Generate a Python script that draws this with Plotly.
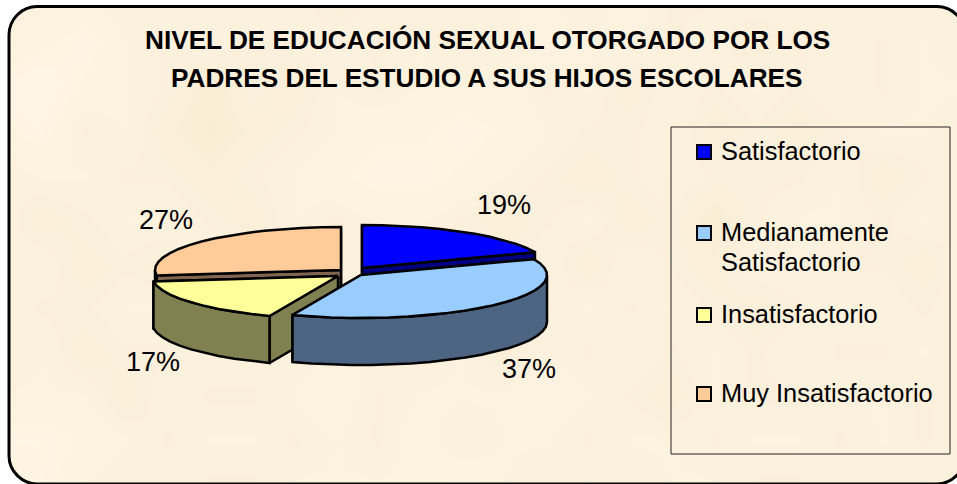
import numpy as np
import plotly.graph_objects as go

title_lines = [
    "NIVEL DE EDUCACIÓN SEXUAL OTORGADO POR LOS",
    "PADRES DEL ESTUDIO A SUS HIJOS ESCOLARES",
]
categories = ["Satisfactorio", "Medianamente", "Insatisfactorio", "Muy Insatisfactorio"]
values = [19, 37, 17, 27]

top_colors = ["#0000FF", "#99CCFF", "#FFFF99", "#FFCC99"]
side_colors = ["#000080", "#4D6582", "#808050", "#806650"]

# where each exploded slice has its apex, on the 957x484 pixel axes
apex = {0: (362, 268), 1: (361, 275), 2: (338, 276), 3: (341, 270)}
label_pos = {0: (504, 207), 1: (529, 371), 2: (153, 364), 3: (166, 222)}
legend_y = {0: 152, 1: 233, 2: 315, 3: 394}
draw_order = [3, 0, 2, 1]

# parchment mottling, one digit per 40px cell, 0 darkest 9 lightest
paper_rows = [
    "566565664656665755665656",
    "678656556565576656456565",
    "897653546566756465656566",
    "785643456778765564545665",
    "566554567887654565556456",
    "645665465665456453566565",
    "564546656556564654665546",
    "655665546465656565456656",
    "564556656656465656565565",
    "666465567566676546556656",
    "887656656575665665665656",
    "786565566667656566556565",
]

RX, RY, DEPTH = 186, 43, 47
FONT = "Liberation Sans, Arial, sans-serif"


def rim(cx, cy, a0, a1):
    # clockwise from 12 o'clock, squashed to an ellipse
    n = max(2, int((a1 - a0) / 6) + 1)
    t = np.radians(np.linspace(a0, a1, n))
    return cx + RX * np.sin(t), cy - RY * np.cos(t)


def add_poly(fig, xs, ys, color):
    fig.add_trace(
        go.Scatter(
            x=list(xs) + [xs[0]],
            y=list(ys) + [ys[0]],
            mode="lines",
            fill="toself",
            fillcolor=color,
            line=dict(color="black", width=2.5),
            hoverinfo="skip",
            showlegend=False,
        )
    )


fig = go.Figure()

fig.add_trace(
    go.Heatmap(
        z=[[int(c) for c in row] for row in paper_rows],
        x0=0,
        dx=42,
        y0=0,
        dy=44,
        zmin=0,
        zmax=9,
        zsmooth="best",
        colorscale=[[0, "#F7E9CE"], [1, "#FFF6E6"]],
        showscale=False,
        hoverinfo="skip",
    )
)

stops = np.cumsum([0] + values) / sum(values) * 360

for i in draw_order:
    a0, a1 = stops[i], stops[i + 1]
    cx, cy = apex[i]
    # radial walls, the ones facing away first
    walls = [(a0, np.cos(np.radians(a0 - 90))), (a1, np.cos(np.radians(a1 + 90)))]
    walls.sort(key=lambda w: -w[1])
    for ang, _ in walls:
        ex, ey = rim(cx, cy, ang, ang + 0.001)
        add_poly(
            fig,
            [cx, ex[0], ex[0], cx],
            [cy, ey[0], ey[0] + DEPTH, cy + DEPTH],
            side_colors[i],
        )
    # front part of the outer wall
    lo, hi = max(a0, 90), min(a1, 270)
    if hi > lo:
        tx, ty = rim(cx, cy, lo, hi)
        add_poly(
            fig,
            np.concatenate([tx, tx[::-1]]),
            np.concatenate([ty, ty[::-1] + DEPTH]),
            side_colors[i],
        )
    # top face
    tx, ty = rim(cx, cy, a0, a1)
    add_poly(fig, np.concatenate([[cx], tx]), np.concatenate([[cy], ty]), top_colors[i])

# percentage labels
fig.add_trace(
    go.Scatter(
        x=[label_pos[i][0] for i in range(4)],
        y=[label_pos[i][1] for i in range(4)],
        mode="text",
        text=[f"{v}%" for v in values],
        textfont=dict(family=FONT, size=27, color="black"),
        hoverinfo="skip",
        showlegend=False,
    )
)

# legend swatches
fig.add_trace(
    go.Scatter(
        x=[704] * 4,
        y=[legend_y[i] for i in range(4)],
        mode="markers",
        marker=dict(symbol="square", size=14, color=top_colors, line=dict(color="black", width=2)),
        hoverinfo="skip",
        showlegend=False,
    )
)

annotations = [
    dict(
        x=487, y=y, text=f"<b>{line}</b>", showarrow=False,
        font=dict(family=FONT, size=26.2, color="black"),
    )
    for line, y in zip(title_lines, [39.5, 77.5])
]
legend_font = dict(family=FONT, size=25.4, color="black")
for i, cat in enumerate(categories):
    annotations.append(
        dict(x=719, y=legend_y[i] - 1, text=cat, showarrow=False, xanchor="left", font=legend_font)
    )
# second line of the wrapped entry
annotations.append(
    dict(x=719, y=legend_y[1] + 29, text="Satisfactorio", showarrow=False, xanchor="left", font=legend_font)
)

frame = (
    "M 9 35 C 9 19 22 6.5 37 6.5 L 937 6.5 C 952 6.5 965 19 965 35 "
    "L 965 456 C 965 471 952 484 937 484 L 37 484 C 22 484 9 471 9 456 Z"
)
shapes = [
    dict(type="path", path="M -5 -5 L 985 -5 L 985 505 L -5 505 Z " + frame, xref="x", yref="y",
         fillcolor="white", fillrule="evenodd", line=dict(width=0), layer="above"),
    dict(type="path", path=frame, xref="x", yref="y", line=dict(color="black", width=3), layer="above"),
    dict(type="rect", x0=671, y0=127, x1=950, y1=454, xref="x", yref="y", line=dict(color="#222222", width=1), layer="above"),
]

fig.update_layout(
    width=957,
    height=484,
    margin=dict(l=0, r=0, t=0, b=0),
    paper_bgcolor="white",
    plot_bgcolor="white",
    showlegend=False,
    xaxis=dict(range=[0, 957], visible=False),
    yaxis=dict(range=[484, 0], visible=False),
    shapes=shapes,
    annotations=annotations,
)

fig.write_html("out.html", config=dict(displayModeBar=False), post_script="document.body.style.margin='0';")
